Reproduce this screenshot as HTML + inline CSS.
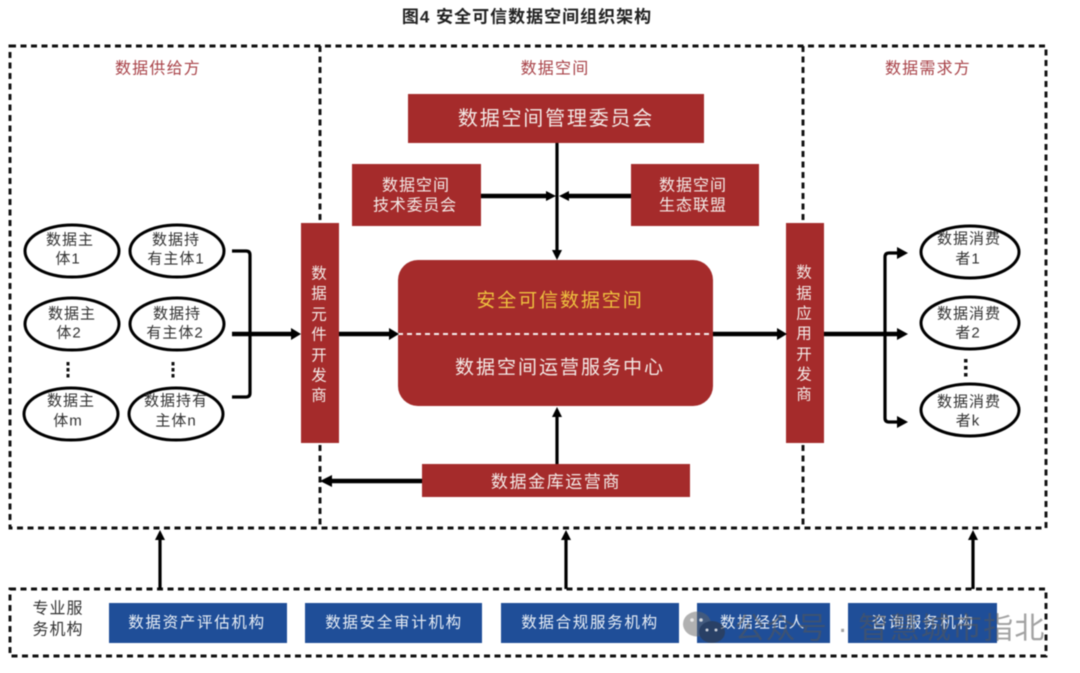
<!DOCTYPE html>
<html><head><meta charset="utf-8"><style>
html,body{margin:0;padding:0;background:#fff;width:1080px;height:673px;overflow:hidden}
svg{display:block;filter:blur(.5px)}
text{font-family:"Liberation Sans","Noto Sans CJK SC",sans-serif;text-anchor:middle;dominant-baseline:central}
.w{fill:#f3e9e6}.r{fill:#a84248;font-size:16px;letter-spacing:1.200px}
.e{font-size:15px;letter-spacing:1px;fill:#333}
.b{fill:#e8eef5;font-size:15.500px;letter-spacing:1.700px}
.d{fill:none;stroke:#111;stroke-width:2.900;stroke-dasharray:6 4.500}
.l{fill:none;stroke:#000;stroke-width:3.200}
.t{fill:none;stroke:#000;stroke-width:4.400}
</style></head><body>
<svg width="1080" height="673" viewBox="0 0 1080 673" xmlns="http://www.w3.org/2000/svg">
<rect width="1080" height="673" fill="#fff"/>
<text x="527" y="17" style="font-size:17px;font-weight:700;letter-spacing:1px;fill:#222">图4 安全可信数据空间组织架构</text>

<rect class="d" x="10" y="46" width="1036" height="482"/>
<path class="d" d="M320 46V528M803 46V528"/>
<rect class="d" x="10" y="589" width="1036" height="67"/>

<text class="r" x="158" y="69">数据供给方</text>
<text class="r" x="555" y="69">数据空间</text>
<text class="r" x="928" y="69">数据需求方</text>

<g fill="#a52b2b">
<rect x="408" y="94" width="296" height="49"/>
<rect x="352" y="164" width="129" height="62"/>
<rect x="631" y="164" width="128" height="62"/>
<rect x="398" y="260" width="315" height="146" rx="20"/>
<rect x="301" y="223" width="38" height="220"/>
<rect x="786" y="223" width="38" height="220"/>
<rect x="422" y="464" width="268" height="33"/>
</g>
<path d="M398 334H713" stroke="#f6eeee" stroke-width="2" stroke-dasharray="5 4" fill="none"/>

<text class="w" x="556" y="119" style="font-size:20px;letter-spacing:1.800px">数据空间管理委员会</text>
<text class="w" x="416" y="186" style="font-size:16px;letter-spacing:1px">数据空间</text>
<text class="w" x="415" y="206" style="font-size:16px;letter-spacing:.8px">技术委员会</text>
<text class="w" x="693" y="186" style="font-size:16px;letter-spacing:1px">数据空间</text>
<text class="w" x="693" y="206" style="font-size:16px;letter-spacing:1px">生态联盟</text>
<text x="560" y="301" style="font-size:19px;letter-spacing:1.900px;fill:#eec13f">安全可信数据空间</text>
<text class="w" x="560" y="368" style="font-size:19px;letter-spacing:2px">数据空间运营服务中心</text>
<text class="w" x="556" y="482" style="font-size:17px;letter-spacing:1.600px">数据金库运营商</text>

<g style="font-size:15.500px">
<text class="w" x="319" y="274">数</text><text class="w" x="319" y="294">据</text><text class="w" x="319" y="315">元</text><text class="w" x="319" y="335">件</text><text class="w" x="319" y="356">开</text><text class="w" x="319" y="376">发</text><text class="w" x="319" y="396">商</text>
<text class="w" x="804" y="273">数</text><text class="w" x="804" y="294">据</text><text class="w" x="804" y="314">应</text><text class="w" x="804" y="334">用</text><text class="w" x="804" y="355">开</text><text class="w" x="804" y="375">发</text><text class="w" x="804" y="395">商</text>
</g>

<g fill="#fff" stroke="#000" stroke-width="3">
<ellipse cx="72" cy="251" rx="47" ry="26"/><ellipse cx="177" cy="251" rx="47" ry="26"/>
<ellipse cx="72" cy="324" rx="47" ry="26"/><ellipse cx="177" cy="324" rx="47" ry="26"/>
<ellipse cx="71" cy="414" rx="47" ry="26"/><ellipse cx="176" cy="414" rx="47" ry="26"/>
<ellipse cx="970" cy="252" rx="49" ry="26"/><ellipse cx="970" cy="323" rx="49" ry="26"/><ellipse cx="970" cy="410" rx="49" ry="26"/>
</g>
<text class="e" x="70" y="240">数据主</text><text class="e" x="68" y="259">体1</text>
<text class="e" x="72" y="314">数据主</text><text class="e" x="69" y="333">体2</text>
<text class="e" x="71" y="401">数据主</text><text class="e" x="68" y="421">体m</text>
<text class="e" x="176" y="240">数据持</text><text class="e" x="176" y="259">有主体1</text>
<text class="e" x="177" y="314">数据持</text><text class="e" x="175" y="333">有主体2</text>
<text class="e" x="176" y="401">数据持有</text><text class="e" x="176" y="421">主体n</text>
<text class="e" x="969" y="239">数据消费</text><text class="e" x="968" y="259">者1</text>
<text class="e" x="969" y="314">数据消费</text><text class="e" x="968" y="333">者2</text>
<text class="e" x="969" y="402">数据消费</text><text class="e" x="968" y="421">者k</text>

<g fill="#111">
<rect x="66.500" y="362" width="3" height="3.500"/><rect x="66.500" y="368" width="3" height="3.500"/><rect x="66.500" y="374" width="3" height="3.500"/>
<rect x="171.500" y="362" width="3" height="3.500"/><rect x="171.500" y="368" width="3" height="3.500"/><rect x="171.500" y="374" width="3" height="3.500"/>
<rect x="964" y="359" width="3.500" height="3.500"/><rect x="964" y="366" width="3.500" height="3.500"/><rect x="964" y="373" width="3.500" height="3.500"/>
</g>

<path class="l" d="M232 251H246Q250 251 250 255V393Q250 397 246 397H232"/>
<path class="t" d="M232 334H292M339 334H390M713 334H778M824 334H898"/>
<path class="l" d="M898 253H889Q885 253 885 257V418Q885 422 889 422H898"/>
<path class="l" d="M557 143V250M557 464V416M160 589V538M566 589V538M973 589V538"/>
<path class="t" d="M481 196H546M631 196H568M422 481H332"/>
<g fill="#000">
<path d="M301 334L291 328V340Z"/><path d="M399 334L389 328V340Z"/><path d="M787 334L777 328V340Z"/>
<path d="M908 253L897 247V259Z"/><path d="M908 334L897 328V340Z"/><path d="M908 422L897 416V428Z"/>
<path d="M557 260L552 250H562Z"/><path d="M556 196L546 191V201Z"/><path d="M559 196L569 191V201Z"/>
<path d="M557 407L552 417H562Z"/><path d="M320 481L332 475V487Z"/>
<path d="M160 530L155 540H165Z"/><path d="M566 530L561 540H571Z"/><path d="M973 530L968 540H978Z"/>
</g>

<text x="58" y="609" style="font-size:16px;letter-spacing:1px;fill:#333">专业服</text>
<text x="58" y="630" style="font-size:16px;letter-spacing:1px;fill:#333">务机构</text>
<g fill="#1f4e98">
<rect x="109" y="603" width="178" height="40"/>
<rect x="305" y="603" width="177" height="40"/>
<rect x="501" y="603" width="178" height="40"/>
<rect x="697" y="603" width="133" height="40"/>
<rect x="848" y="603" width="149" height="40"/>
</g>
<text class="b" x="197" y="623">数据资产评估机构</text>
<text class="b" x="394" y="623">数据安全审计机构</text>
<text class="b" x="590" y="623">数据合规服务机构</text>
<text class="b" x="763" y="623">数据经纪人</text>
<text class="b" x="923" y="623">咨询服务机构</text>

<g opacity=".5">
<ellipse cx="697" cy="624" rx="14" ry="12.500" fill="#666"/>
<ellipse cx="712" cy="632" rx="13" ry="11" fill="#333"/>
</g>
<g fill="#fff" opacity=".75"><circle cx="692" cy="620" r="1.800"/><circle cx="701" cy="620" r="1.800"/><circle cx="707" cy="630" r="1.500"/><circle cx="716" cy="630" r="1.500"/></g>
<text x="890" y="629" style="font-size:30px;fill:#555;fill-opacity:.55;letter-spacing:1.200px">公众号 · 智慧城市指北</text>
</svg>
</body></html>
